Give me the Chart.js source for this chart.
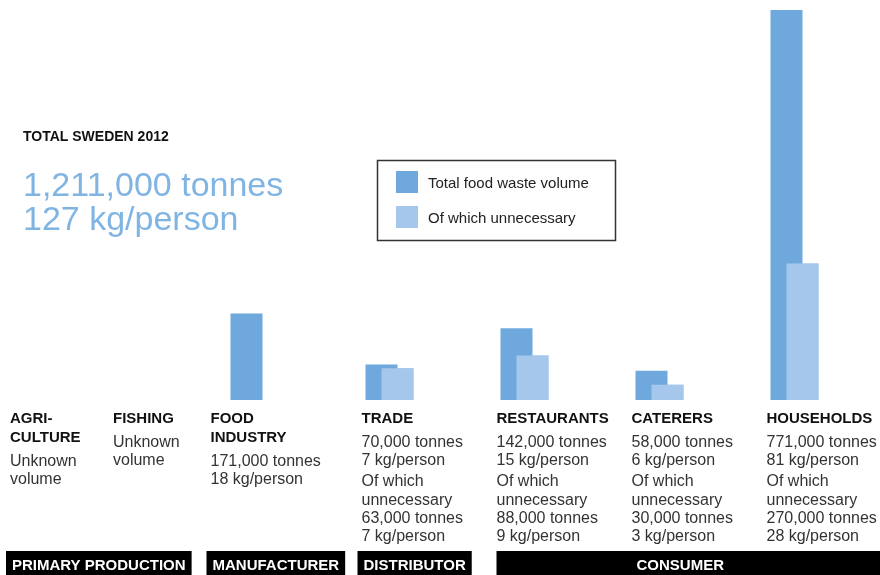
<!DOCTYPE html>
<html>
<head>
<meta charset="utf-8">
<script src="https://cdn.jsdelivr.net/npm/chart.js@4.4.1/dist/chart.umd.min.js"></script>
<style>
    html, body { margin: 0; padding: 0; background: #fff; }
    canvas { display: block; }
</style>
</head>
<body>
<canvas id="wasteChart" width="880" height="575"></canvas>
<script>
// Food waste per link in the food chain, Sweden 2012
const sectors = [['FOOD', 'INDUSTRY'], ['TRADE'], ['RESTAURANTS'], ['CATERERS'], ['HOUSEHOLDS']];
const totalTonnes = [171000, 70000, 142000, 58000, 771000];
const totalKgPerPerson = [18, 7, 15, 6, 81];
const unnecessaryTonnes = [null, 63000, 88000, 30000, 270000];
const unnecessaryKgPerPerson = [null, 7, 9, 3, 28];
const unknownSectors = [['AGRI-', 'CULTURE'], ['FISHING']];
const stages = ['PRIMARY PRODUCTION', 'MANUFACTURER', 'DISTRIBUTOR', 'CONSUMER'];
const seriesLabels = ['Total food waste volume', 'Of which unnecessary'];
const swedenTonnes = 1211000;
const swedenKgPerPerson = 127;

const FONT = '"Liberation Sans", Arial, sans-serif';
const DARK_BLUE = '#6fa8dc';
const LIGHT_BLUE = '#a5c7eb';
const TITLE_BLUE = '#80b4e3';

const fmt = n => n.toLocaleString('en-US');

function drawColumn(ctx, left, titleLines, groups) {
    let y = 423;
    ctx.fillStyle = '#111';
    ctx.font = 'bold 15px ' + FONT;
    titleLines.forEach((line, i) => {
        y = 423 + i * 19;
        ctx.fillText(line, left, y);
    });
    ctx.fillStyle = '#333';
    ctx.font = '16px ' + FONT;
    y += 24;
    groups.forEach((lines, g) => {
        if (g > 0) y += 21;
        lines.forEach((line, i) => {
            if (i > 0) y += 18.3;
            ctx.fillText(line, left, y);
        });
    });
}

const infographicText = {
    id: 'infographicText',
    afterDatasetsDraw(chart) {
        // the "unnecessary" bars sit in front of the totals
        chart.getDatasetMeta(1).controller.draw();
    },
    afterDraw(chart) {
        const ctx = chart.ctx;
        const xScale = chart.scales.x;
        ctx.save();
        ctx.textBaseline = 'alphabetic';
        ctx.textAlign = 'left';

        // headline totals
        ctx.fillStyle = '#111';
        ctx.font = 'bold 14px ' + FONT;
        ctx.fillText('TOTAL SWEDEN 2012', 23, 141);
        ctx.fillStyle = TITLE_BLUE;
        ctx.font = '34px ' + FONT;
        ctx.fillText(fmt(swedenTonnes) + ' tonnes', 23, 196);
        ctx.fillText(swedenKgPerPerson + ' kg/person', 23, 230);

        // legend box
        ctx.strokeStyle = '#333';
        ctx.lineWidth = 1.5;
        ctx.strokeRect(377.5, 160.5, 238, 80);
        chart.data.datasets.forEach((ds, i) => {
            ctx.fillStyle = ds.backgroundColor;
            ctx.fillRect(396, 171 + i * 35, 22, 22);
            ctx.fillStyle = '#222';
            ctx.font = '15px ' + FONT;
            ctx.fillText(ds.label, 428, 187.5 + i * 35);
        });

        // sector columns
        const columnLeft = [10, 113];
        unknownSectors.forEach((title, i) => {
            drawColumn(ctx, columnLeft[i], title, [['Unknown', 'volume']]);
        });
        sectors.forEach((title, i) => {
            const single = unnecessaryTonnes[i] == null;
            const left = xScale.getPixelForValue(i) - 28 - (single ? 16 : 0);
            columnLeft.push(left);
            const groups = [[fmt(totalTonnes[i]) + ' tonnes', totalKgPerPerson[i] + ' kg/person']];
            if (!single) {
                groups.push(['Of which', 'unnecessary',
                    fmt(unnecessaryTonnes[i]) + ' tonnes', unnecessaryKgPerPerson[i] + ' kg/person']);
            }
            drawColumn(ctx, left, title, groups);
        });

        // stage bands along the bottom
        const stageStart = [0, 2, 3, 4];
        ctx.font = 'bold 15px ' + FONT;
        stages.forEach((name, i) => {
            const last = i === stages.length - 1;
            const x0 = columnLeft[stageStart[i]] - (last ? 0 : 4);
            const w = last ? chart.width - x0 : ctx.measureText(name).width + 12;
            ctx.fillStyle = '#000';
            ctx.fillRect(x0, 551, w, 24);
            ctx.fillStyle = '#fff';
            if (last) {
                ctx.textAlign = 'center';
                ctx.fillText(name, x0 + w / 2 - 8, 570);
                ctx.textAlign = 'left';
            } else {
                ctx.fillText(name, x0 + 6, 570);
            }
        });
        ctx.restore();
    }
};

new Chart(document.getElementById('wasteChart').getContext('2d'), {
    type: 'bar',
    data: {
        labels: sectors.map(s => s.join(' ')),
        datasets: [
            {
                label: seriesLabels[0],
                data: totalTonnes,
                backgroundColor: DARK_BLUE,
            },
            {
                label: seriesLabels[1],
                data: unnecessaryTonnes,
                backgroundColor: LIGHT_BLUE,
            },
        ],
    },
    options: {
        responsive: false,
        animation: false,
        // half-overlapping pairs: each bar is twice its slot
        categoryPercentage: 0.237,
        barPercentage: 2,
        layout: { padding: { left: 187, right: 18, top: 10, bottom: 175 } },
        scales: {
            x: { display: false, offset: true },
            y: { display: false, min: 0, max: Math.max(...totalTonnes) },
        },
        plugins: {
            legend: { display: false },
            tooltip: { enabled: false },
        },
    },
    plugins: [infographicText],
});
</script>
</body>
</html>
